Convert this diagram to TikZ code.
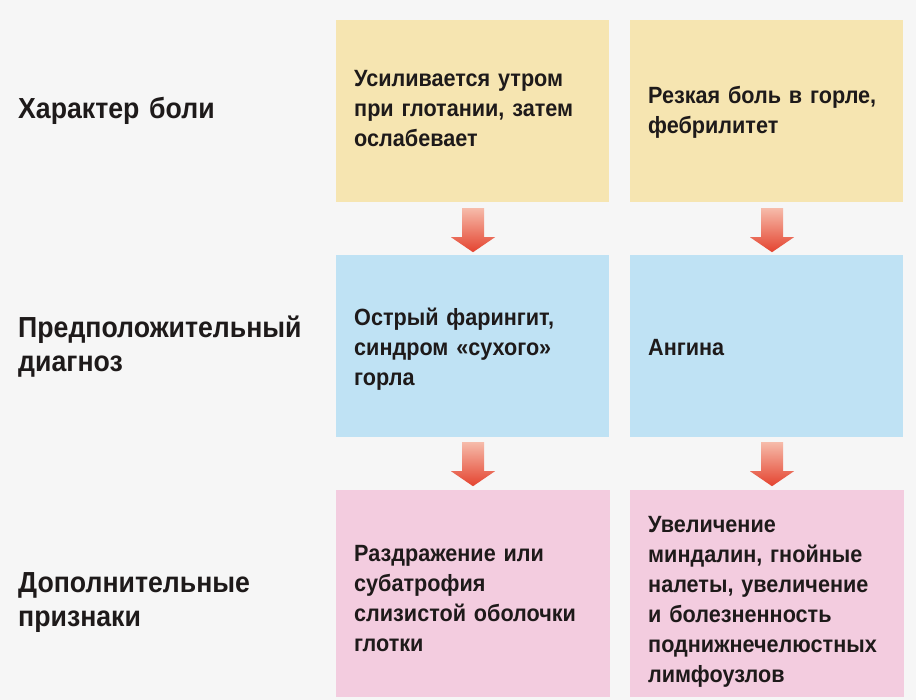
\documentclass[tikz,border=0pt]{standalone}
\usepackage{fontspec}
\setmainfont{Liberation Sans}[FakeStretch=0.92]
\usetikzlibrary{calc}
\definecolor{bg}{HTML}{F6F6F6}
\definecolor{ink}{HTML}{1E1A1A}
\definecolor{cyellow}{HTML}{F6E5B1}
\definecolor{cblue}{HTML}{BFE2F4}
\definecolor{cpink}{HTML}{F3CCDF}
\definecolor{arrtop}{HTML}{F6BBAA}
\definecolor{arrbot}{HTML}{E4432F}
\begin{document}
\begin{tikzpicture}[x=1pt,y=-1pt,
  box/.style={rectangle, inner sep=0pt, draw=none, minimum width=273pt, minimum height=182pt},
  tallbox/.style={box, minimum width=274pt, minimum height=207pt},
  lab/.style={anchor=base west, inner sep=0pt, font=\fontsize{29}{34}\selectfont\bfseries, text width=310pt, align=left, text=ink},
  txt/.style={anchor=base west, inner sep=0pt, font=\fontsize{23.5}{30}\selectfont\bfseries, text width=250pt, align=left, text=ink},
  arr/.style={top color=arrtop, bottom color=arrbot, draw=none}]
\fill[bg] (0,0) rectangle (916,700);
\useasboundingbox (0,0) rectangle (916,700);

% boxes
\node[box, fill=cyellow] (A1) at (472.5,111) {};
\node[box, fill=cyellow] (B1) at (766.5,111) {};
\node[box, fill=cblue] (A2) at (472.5,346) {};
\node[box, fill=cblue] (B2) at (766.5,346) {};
\node[tallbox, fill=cpink] (A3) at (473,593.5) {};
\node[tallbox, fill=cpink] (B3) at (767,593.5) {};

% row labels
\node[lab] (L1) at (18,119) {Характер боли};
\node[lab] (L2) at (18,338) {Предположительный\\диагноз};
\node[lab] (L3) at (18,592) {Дополнительные\\признаки};

% box texts
\node[txt] (tA1) at (354,87) {Усиливается утром\\при глотании, затем\\ослабевает};
\node[txt] (tB1) at (648,104) {Резкая боль в горле,\\фебрилитет};
\node[txt] (tA2) at (354,326) {Острый фарингит,\\синдром «сухого»\\горла};
\node[txt] (tB2) at (648,356) {Ангина};
\node[txt] (tA3) at (354,561) {Раздражение или\\субатрофия\\слизистой оболочки\\глотки};
\node[txt] (tB3) at (648,532) {Увеличение\\миндалин, гнойные\\налеты, увеличение\\и болезненность\\поднижнечелюстных\\лимфоузлов};

% arrows
\foreach \s/\dx/\dy in {A1/0.5/6, A2/0.5/5, B1/5.5/6, B2/5.5/5} {
  \shade[arr] ($(\s.south)+(\dx-11,\dy)$) -- ++(22,0) -- ++(0,29) -- ++(11,0)
    -- ++(-22,15) -- ++(-22,-15) -- ++(11,0) -- cycle;
}
\end{tikzpicture}
\end{document}
